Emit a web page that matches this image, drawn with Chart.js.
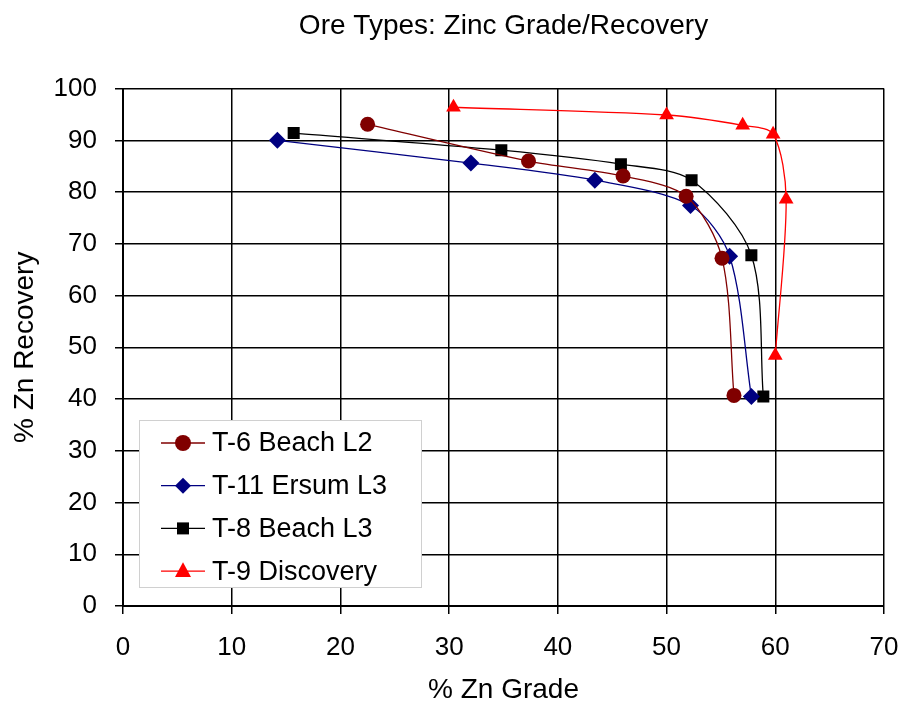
<!DOCTYPE html>
<html>
<head>
<meta charset="utf-8">
<script src="https://cdn.jsdelivr.net/npm/chart.js@4.4.1/dist/chart.umd.min.js"></script>
<style>
	html, body { margin: 0; padding: 0; background: #fff; }
	#wrap { width: 901px; height: 707px; }
</style>
</head>
<body>
<div id="wrap"><canvas id="oreChart" width="901" height="707"></canvas></div>
<script>
// data (% Zn Grade, % Zn Recovery)
const seriesNames = ['T-6 Beach L2', 'T-11 Ersum L3', 'T-8 Beach L3', 'T-9 Discovery'];

const t6Grade = [22.5, 37.3, 46.0, 51.8, 55.1, 56.2];
const t6Recovery = [93.1, 86.0, 83.1, 79.2, 67.2, 40.7];

const t11Grade = [14.2, 32.0, 43.4, 52.2, 55.8, 57.8];
const t11Recovery = [90.0, 85.6, 82.3, 77.4, 67.6, 40.5];

const t8Grade = [15.7, 34.8, 45.8, 52.3, 57.8, 58.9];
const t8Recovery = [91.4, 88.1, 85.4, 82.3, 67.8, 40.5];

const t9Grade = [30.4, 50.0, 57.0, 59.8, 61.0, 60.0];
const t9Recovery = [96.4, 94.9, 92.9, 91.2, 78.6, 48.4];

// Colors
const colT6 = '#800000';
const colT11 = '#000080';
const colT8 = '#000000';
const colT9 = '#ff0000';

const FONT = '"Liberation Sans", Arial, sans-serif';

function toPoints(xs, ys) {
	return xs.map((x, i) => ({ x: x, y: ys[i] }));
}

function makeSet(label, xs, ys, color, style, radius) {
	return {
		label: label,
		data: toPoints(xs, ys),
		showLine: true,
		borderColor: color,
		backgroundColor: color,
		borderWidth: 1.3,
		tension: 0.3,
		pointStyle: style,
		pointRadius: radius,
		pointBorderWidth: 0,
		pointBackgroundColor: color,
	};
}

// draws a marker like the chart's points (for the legend box)
function marker(ctx, style, x, y, r, color) {
	ctx.save();
	ctx.fillStyle = color;
	ctx.beginPath();
	if (style === 'circle') {
		ctx.arc(x, y, r, 0, Math.PI * 2);
	} else if (style === 'rectRot') {
		ctx.moveTo(x, y - r); ctx.lineTo(x + r, y); ctx.lineTo(x, y + r); ctx.lineTo(x - r, y);
	} else if (style === 'rect') {
		ctx.rect(x - r, y - r, r * 2, r * 2);
	} else if (style === 'triangle') {
		ctx.moveTo(x, y - r * 1.1); ctx.lineTo(x + r, y + r * 0.75); ctx.lineTo(x - r, y + r * 0.75);
	}
	ctx.closePath();
	ctx.fill();
	ctx.restore();
}

const boxLegend = {
	id: 'boxLegend',
	afterDraw(chart) {
		const ctx = chart.ctx;
		const area = chart.chartArea;
		const left = area.left + 16, top = 420, w = 282, h = 167;
		ctx.save();
		ctx.fillStyle = '#fff';
		ctx.fillRect(left, top, w, h);
		ctx.strokeStyle = '#d0d0d0';
		ctx.lineWidth = 1;
		ctx.strokeRect(left + 0.5, top + 0.5, w, h);
		ctx.font = '27px ' + FONT;
		ctx.textBaseline = 'middle';
		chart.data.datasets.forEach((ds, i) => {
			const y = top + 23 + i * 42.7;
			ctx.strokeStyle = ds.borderColor;
			ctx.lineWidth = 1.3;
			ctx.beginPath();
			ctx.moveTo(left + 22, y);
			ctx.lineTo(left + 66, y);
			ctx.stroke();
			marker(ctx, ds.pointStyle, left + 44, y, ds.pointStyle === 'rect' ? 6 : 8, ds.borderColor);
			ctx.fillStyle = '#000';
			ctx.fillText(ds.label, left + 73, y + 1);
		});
		ctx.restore();
	}
};

const oreChart = new Chart(document.getElementById('oreChart'), {
	type: 'scatter',
	data: {
		datasets: [
			makeSet(seriesNames[0], t6Grade, t6Recovery, colT6, 'circle', 7.5),
			makeSet(seriesNames[1], t11Grade, t11Recovery, colT11, 'rectRot', 8.5),
			makeSet(seriesNames[2], t8Grade, t8Recovery, colT8, 'rect', 8.5),
			makeSet(seriesNames[3], t9Grade, t9Recovery, colT9, 'triangle', 8.5),
		]
	},
	options: {
		responsive: false,
		animation: false,
		layout: { padding: { left: 8, right: 17, top: 0, bottom: 0 } },
		plugins: {
			legend: { display: false },
			tooltip: { enabled: false },
			title: {
				display: true,
				fullSize: false,
				text: 'Ore Types: Zinc Grade/Recovery',
				color: '#000',
				font: { family: FONT, size: 28, weight: 'normal' },
				padding: { top: 9, bottom: 46 }
			}
		},
		scales: {
			x: {
				type: 'linear',
				min: 0,
				max: 70,
				ticks: { stepSize: 10, color: '#000', padding: 18, font: { family: FONT, size: 26 } },
				grid: { color: '#000', lineWidth: 1.5, tickLength: 8 },
				border: { color: '#000', width: 2 },
				title: {
					display: true,
					text: '% Zn Grade',
					color: '#000',
					font: { family: FONT, size: 28 },
					padding: { top: 0, bottom: 0 }
				},
				afterFit(scale) {
					scale.height = 101;
					scale.paddingLeft = 0;
					scale.paddingRight = 0;
				}
			},
			y: {
				type: 'linear',
				min: 0,
				max: 100,
				ticks: { stepSize: 10, color: '#000', padding: 18, font: { family: FONT, size: 26 } },
				grid: { color: '#000', lineWidth: 1.5, tickLength: 8 },
				border: { color: '#000', width: 2 },
				title: {
					display: true,
					text: '% Zn Recovery',
					color: '#000',
					font: { family: FONT, size: 28 },
					padding: { top: 0, bottom: 0 }
				},
				afterFit(scale) {
					scale.width = 115;
					scale.paddingTop = 0;
					scale.paddingBottom = 0;
				}
			}
		}
	},
	plugins: [boxLegend]
});
</script>
</body>
</html>
